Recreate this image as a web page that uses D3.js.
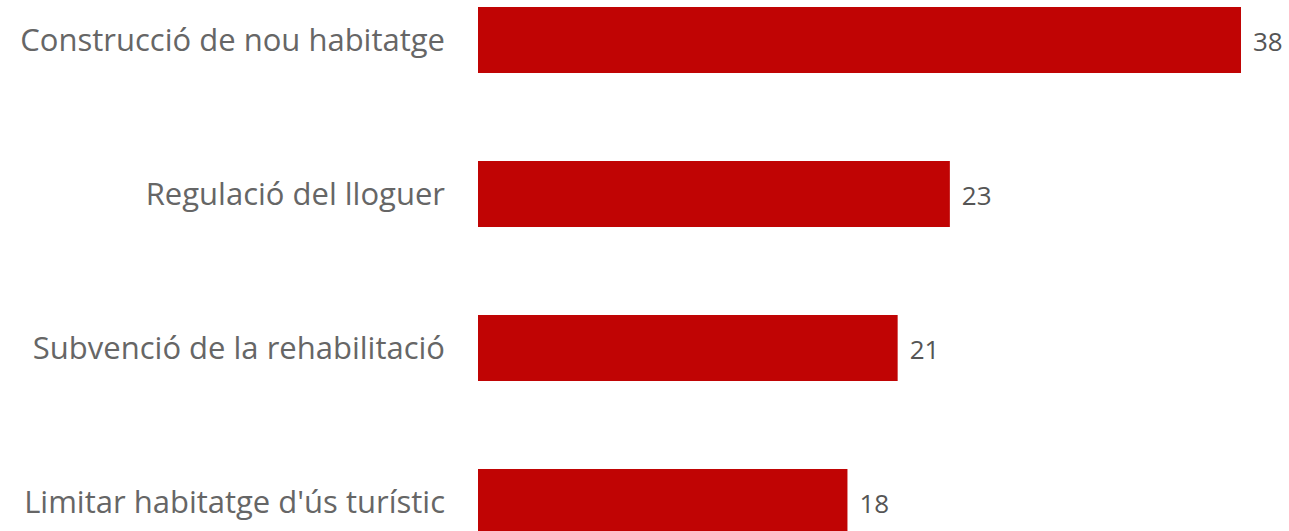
<!DOCTYPE html>
<html>
<head>
<meta charset="utf-8">
<script src="https://cdn.jsdelivr.net/npm/d3@7"></script>
<style>
  html, body { margin: 0; padding: 0; background: #fff; overflow: hidden; }
  svg { display: block; }
</style>
</head>
<body>
<script>
// categories and values
let categories = ["Construcció de nou habitatge", "Regulació del lloguer", "Subvenció de la rehabilitació", "Limitar habitatge d'ús turístic"]
let values = [38, 23.5, 20.9, 18.4]
let valueLabels = ["38", "23", "21", "18"]

var width = 1289, height = 531

var svg = d3.select("body").append("svg")
    .attr("width", width)
    .attr("height", height)

var x = d3.scaleLinear()
    .domain([0, 38])
    .range([478, 1241])

var y = d3.scaleBand()
    .domain(categories)
    .range([7, 535])
    .paddingInner(0.5714)
    .paddingOuter(0)

let rows = categories.map((c, i) => ({ cat: c, val: values[i], label: valueLabels[i] }))

svg.selectAll(".bar")
    .data(rows)
    .enter().append("rect")
    .attr("class", "bar")
    .attr("x", x(0))
    .attr("y", d => y(d.cat))
    .attr("width", d => x(d.val) - x(0))
    .attr("height", y.bandwidth())
    .attr("fill", "#c00404")

svg.selectAll(".cat")
    .data(rows)
    .enter().append("text")
    .attr("class", "cat")
    .attr("x", x(0) - 33)
    .attr("y", d => y(d.cat) + y.bandwidth() / 2)
    .attr("dy", "0.35em")
    .attr("text-anchor", "end")
    .style("font-family", "'Open Sans', sans-serif")
    .style("font-size", "31px")
    .attr("fill", "#666")
    .text(d => d.cat)

svg.selectAll(".val")
    .data(rows)
    .enter().append("text")
    .attr("class", "val")
    .attr("x", d => x(d.val) + 12)
    .attr("y", d => y(d.cat) + y.bandwidth() / 2 + 2)
    .attr("dy", "0.35em")
    .style("font-family", "'Open Sans', sans-serif")
    .style("font-size", "26px")
    .attr("fill", "#555")
    .text(d => d.label)
</script>
</body>
</html>
